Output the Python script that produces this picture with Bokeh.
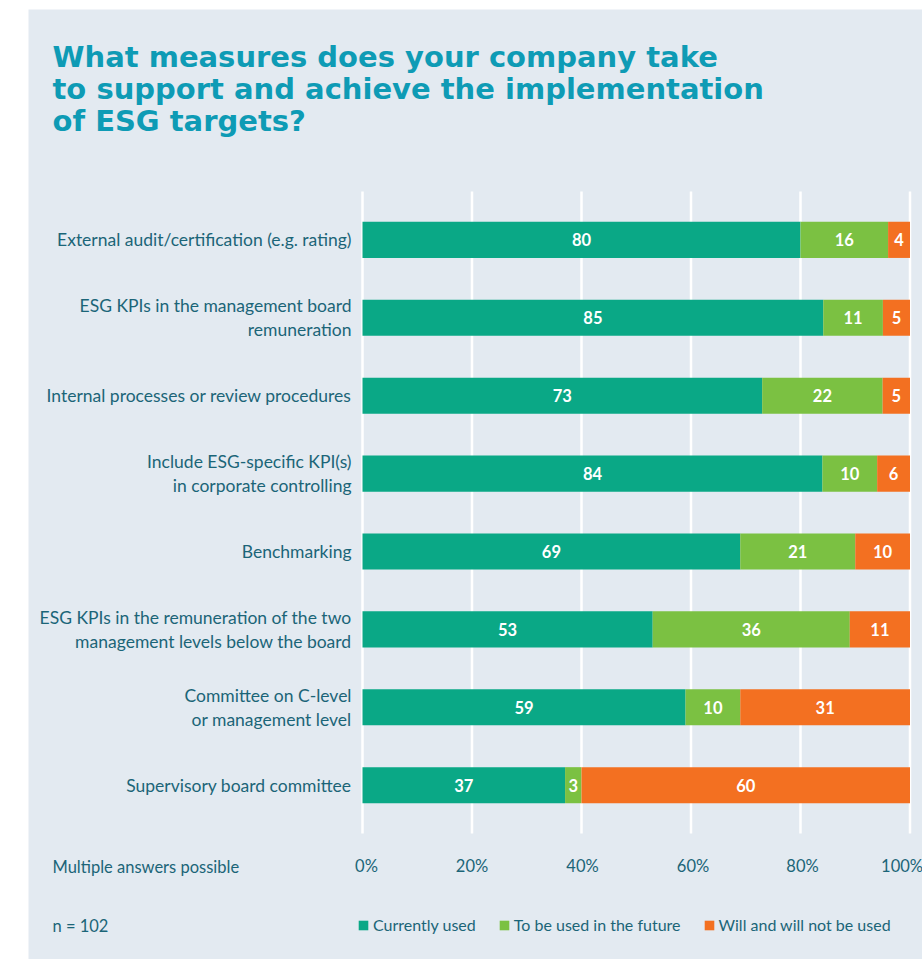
import numpy as np
from bokeh.plotting import figure
from bokeh.models import ColumnDataSource, Range1d, Label, Legend, LegendItem
from bokeh.core.properties import value
from bokeh.embed import file_html
from bokeh.resources import INLINE

# ---------------- data ----------------
categories = [
    "External audit/certification (e.g. rating)",
    "ESG KPIs in the management board\nremuneration",
    "Internal processes or review procedures",
    "Include ESG-specific KPI(s)\nin corporate controlling",
    "Benchmarking",
    "ESG KPIs in the remuneration of the two\nmanagement levels below the board",
    "Committee on C-level\nor management level",
    "Supervisory board committee",
]
currently_used = [80, 85, 73, 84, 69, 53, 59, 37]
future_use = [16, 11, 22, 10, 21, 36, 10, 3]
will_not = [4, 5, 5, 6, 10, 11, 31, 60]
series_names = ["Currently used", "To be used in the future", "Will and will not be used"]
x_ticks = [0, 20, 40, 60, 80, 100]
x_tick_labels = ["0%", "20%", "40%", "60%", "80%", "100%"]
title_lines = ["What measures does your company take",
               "to support and achieve the implementation",
               "of ESG targets?"]
note_text = "Multiple answers possible"
n_text = "n = 102"

# ---------------- style / layout ----------------
COLORS = ["#0aa886", "#7bc142", "#f37021"]
BG = "#e3eaf1"
TEXT = "#1b6578"
TITLE = "#0e9bb5"
FONT = "Lato"
FS = "17.5px"
FS_SMALL = "16.5px"
TICK_ALIGN = ["center", "center", "center", "center", "center", "right"]
TICK_DX = [4, 0, 1, 2, 2, 13]

W, H = 894, 950                 # canvas (page minus white margins)
PLOT_L, PLOT_R = 334.0, 881.5   # pixel span of 0..100 %
ROW0, ROW_STEP = 230.4, 77.9    # pixel centre of first bar, spacing
GRID_PAD = 0.62                 # grid extends this many rows beyond first/last bar
BAR_H = 0.463

px_per_pct = (PLOT_R - PLOT_L) / 100.0
x_range = Range1d(-PLOT_L / px_per_pct, 100 + (W - PLOT_R) / px_per_pct)
y_range = Range1d((H - ROW0) / ROW_STEP, -ROW0 / ROW_STEP)

n = len(categories)
rows = np.arange(n)
vals = np.array([currently_used, future_use, will_not], dtype=float)
shares = vals / vals.sum(axis=0) * 100
rights = np.cumsum(shares, axis=0)
lefts = rights - shares

p = figure(width=W, height=H, x_range=x_range, y_range=y_range,
           x_axis_location=None, y_axis_location=None, title=None,
           output_backend="svg", toolbar_location=None,
           min_border=0, min_border_left=0, min_border_right=0,
           min_border_top=0, min_border_bottom=0,
           background_fill_color=BG, border_fill_color=BG,
           outline_line_color=None, margin=(9, 0, 0, 28))
p.grid.visible = False

# vertical white grid lines at the percentage ticks
p.segment(x0=x_ticks, x1=x_ticks, y0=[-GRID_PAD] * len(x_ticks),
          y1=[n - 1 + GRID_PAD] * len(x_ticks), line_color="white", line_width=2.5)

renderers = []
seg_x, seg_y, seg_t = [], [], []
for k in range(3):
    src = ColumnDataSource(dict(y=rows, left=lefts[k], right=rights[k]))
    r = p.hbar(y="y", left="left", right="right", height=BAR_H,
               fill_color=COLORS[k], line_color=None, source=src)
    renderers.append(r)
    for i in range(n):
        seg_x.append((lefts[k][i] + rights[k][i]) / 2)
        seg_y.append(i)
        seg_t.append(str(int(vals[k][i])))

# value labels
p.text(x="x", y="y", text="t", source=ColumnDataSource(dict(x=seg_x, y=seg_y, t=seg_t)),
       text_align="center", text_baseline="middle", text_color="white",
       text_font=value(FONT), text_font_style="bold", text_font_size="16.5px")

# category labels (left of the 0 % line)
p.text(x=[0] * n, y=rows, text=categories, x_offset=-11,
       text_align="right", text_baseline="middle", text_color=TEXT,
       text_font=value(FONT), text_font_size=FS, text_line_height=1.14)

# percentage tick labels below the grid
p.text(x=x_ticks, y=[n - 1 + GRID_PAD] * len(x_ticks), text=x_tick_labels,
       x_offset=TICK_DX, y_offset=33, text_align=TICK_ALIGN, text_baseline="middle",
       text_color=TEXT, text_font=value(FONT), text_font_size=FS_SMALL)

# legend
legend = Legend(items=[LegendItem(label=s, renderers=[r]) for s, r in zip(series_names, renderers)],
                orientation="horizontal", location=(329, 25),
                glyph_width=12, glyph_height=12, label_standoff=4, spacing=22,
                padding=0, margin=0, border_line_color=None, background_fill_alpha=0,
                label_text_font=FONT, label_text_font_size="16px", label_text_color=TEXT,
                label_height=12)
p.add_layout(legend)

# title and notes (screen units, origin bottom-left of canvas)
for i, line in enumerate(title_lines):
    p.add_layout(Label(x=24, y=H - 47 - 32 * i, x_units="screen", y_units="screen", text=line,
                       text_font="DejaVu Sans", text_font_style="bold", text_font_size="29px",
                       text_color=TITLE, text_baseline="alphabetic"))
p.add_layout(Label(x=24, y=H - 857, x_units="screen", y_units="screen", text=note_text,
                   text_font=FONT, text_font_size=FS_SMALL, text_color=TEXT, text_baseline="middle"))
p.add_layout(Label(x=24, y=H - 916, x_units="screen", y_units="screen", text=n_text,
                   text_font=FONT, text_font_size=FS_SMALL, text_color=TEXT, text_baseline="middle"))

open("out.html", "w").write(file_html(p, INLINE))
